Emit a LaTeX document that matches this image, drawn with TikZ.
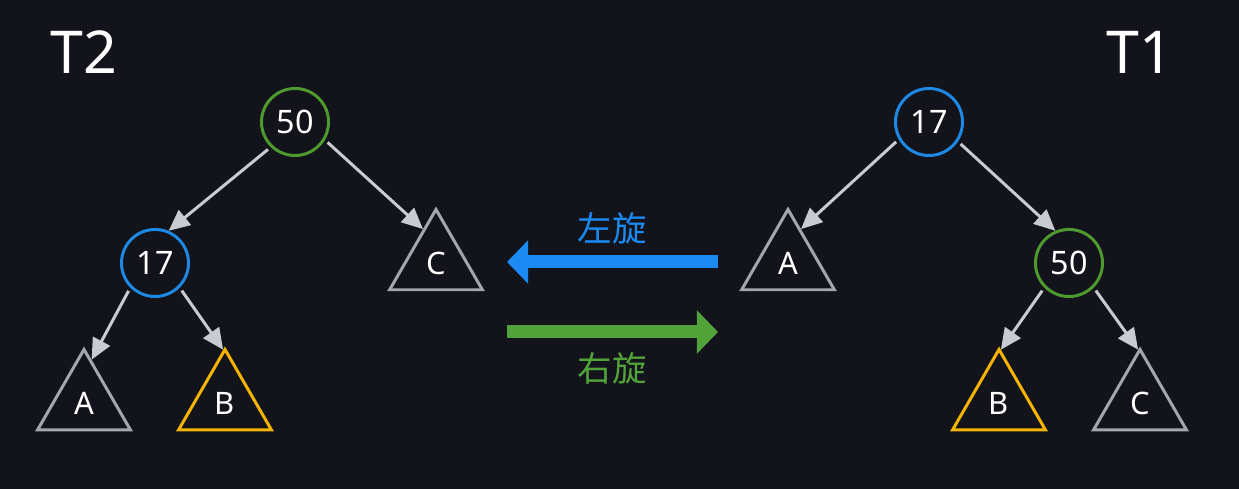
\documentclass[tikz,border=0pt]{standalone}
\usepackage{fontspec}
\setmainfont{Noto Sans}
\newfontfamily\cjk{Noto Sans CJK SC}
\usetikzlibrary{arrows.meta,shapes.geometric}
\definecolor{bgdark}{HTML}{12131B}
\definecolor{rotblue}{HTML}{1B8AF2}
\definecolor{rotgreen}{HTML}{52A23A}
\definecolor{keyblue}{HTML}{1E88E5}
\definecolor{keygreen}{HTML}{4E9A2E}
\definecolor{subgold}{HTML}{F5B400}
\definecolor{subgrey}{HTML}{A5A6AC}
\definecolor{linkgrey}{HTML}{C9CAD2}
\newcommand{\lb}{\fontsize{9.2}{10}\selectfont}

\begin{document}
\begin{tikzpicture}[x=0.01cm, y=-0.01cm,
  key/.style={circle, draw=#1, line width=0.85pt, minimum size=0.67cm, inner sep=0pt, text=white, font=\lb},
  sub/.style={regular polygon, regular polygon sides=3, draw=#1, line width=0.85pt, minimum size=1.07cm, inner sep=0pt, text=white, font=\fontsize{8.8}{10}\selectfont},
  link/.style={draw=linkgrey, line width=0.85pt, -{Triangle[length=0.21cm,width=0.19cm]}, shorten <=1pt},
  rot/.style={line width=0.13cm, -{Triangle[length=0.21cm,width=0.42cm]}},
  ttl/.style={text=white, font=\fontsize{16.8}{18}\selectfont},
  rl/.style={font=\cjk\fontsize{9.8}{11}\selectfont}]

\fill[bgdark] (0,0) rectangle (1239,489);
\useasboundingbox (0,0) rectangle (1239,489);

% ================================================================== T2 (left)
\node[ttl] (t2) at (84,52) {T2};
\node[key=keygreen] (l50) at (295,122) {50};
\node[key=keyblue] (l17) at (155,263) {17};
\node[sub=subgrey] (lC) at (436,263) {C};
\node[sub=subgrey] (lA) at (84,403) {A};
\node[sub=subgold] (lB) at (225,403) {B};
\draw[link] (l50.226) -- (l17.67);
\draw[link] (l50.-31) -- (lC.111);
\draw[link] (l17.225) -- (lA.80);
\draw[link] (l17.-45) -- (lB.92);

% ================================================================== T1 (right)
\node[ttl] (t1) at (1140,52) {T1};
\node[key=keyblue] (r17) at (929,122) {17};
\node[key=keygreen] (r50) at (1069,263) {50};
\node[sub=subgrey] (rA) at (788,263) {A};
\node[sub=subgold] (rB) at (999,403) {B};
\node[sub=subgrey] (rC) at (1140,403) {C};
\draw[link] (r17.210) -- (rA.69);
\draw[link] (r17.-34) -- (r50.113);
\draw[link] (r50.225) -- (rB.88);
\draw[link] (r50.-45) -- (rC.92);

% ================================================================== rotations
\coordinate (lt) at (507,262);
\coordinate (rt) at (718,262);
\coordinate (lb) at (507,332);
\coordinate (rb) at (718,332);
\draw[rot, rotblue] (rt) -- (lt);
\draw[rot, rotgreen] (lb) -- (rb);
\node[rl, text=rotblue] (left) at (612,228) {左旋};
\node[rl, text=rotgreen] (right) at (612,368) {右旋};
\end{tikzpicture}
\end{document}
